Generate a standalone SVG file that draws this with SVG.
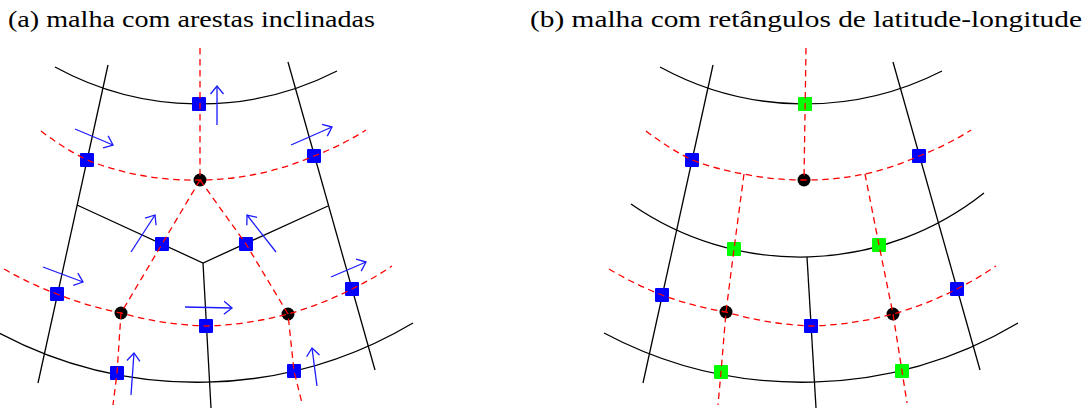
<svg xmlns="http://www.w3.org/2000/svg" width="1092" height="408" viewBox="0 0 1092 408">
<style>
.t{font-family:"Liberation Serif","DejaVu Serif",serif;font-size:23px;fill:#000}
.k{fill:none;stroke:#000;stroke-width:1.3}
.r{fill:none;stroke:#ff0000;stroke-width:1.3;stroke-dasharray:6.5,4.5}
.a{fill:none;stroke:#1a1aff;stroke-width:1.3}
.b{fill:#0000ff}
.g{fill:#00ff00}
.d{fill:#000}
</style>
<defs>
<marker id="ah" markerUnits="userSpaceOnUse" markerWidth="12" markerHeight="16" refX="9" refY="7" orient="auto" overflow="visible">
<path d="M1,0.5 L9,7 L1,13.5" fill="none" stroke="#1a1aff" stroke-width="1.3"/>
</marker>
</defs>
<rect width="1092" height="408" fill="#fff"/>
<text class="t" x="8" y="27" textLength="367" lengthAdjust="spacingAndGlyphs">(a) malha com arestas inclinadas</text>
<text class="t" x="530" y="27" textLength="552" lengthAdjust="spacingAndGlyphs">(b) malha com retângulos de latitude-longitude</text>

<g id="mesh">
<path class="k" d="M55,67 A302,302 0 0 0 337,71"/>
<path class="k" d="M108,65 L38,383"/>
<path class="k" d="M288,62 L375,370"/>
<path class="k" d="M77,205 L203,263 L328,206 M203,263 L211,408"/>
<path class="k" d="M-1,333 A423,423 0 0 0 413,323"/>
<path class="k" d="M660,67 A302,302 0 0 0 942,71"/>
<path class="k" d="M713,65 L643,383"/>
<path class="k" d="M893,62 L980,370"/>
<path class="k" d="M631,204 A296,296 0 0 0 984,193"/>
<path class="k" d="M807,257 L816,408"/>
<path class="k" d="M604,333 A423,423 0 0 0 1018,323"/>
</g>

<g id="nodes-a">
<g id="a-e1"><rect class="b" x="192" y="97" width="14" height="14" rx="1"/></g>
<g id="a-e2"><rect class="b" x="80" y="153" width="14" height="14" rx="1"/></g>
<g id="a-e3"><rect class="b" x="307" y="149" width="14" height="14" rx="1"/></g>
<g id="a-e4"><rect class="b" x="155" y="237" width="14" height="14" rx="1"/></g>
<g id="a-e5"><rect class="b" x="239" y="237" width="14" height="14" rx="1"/></g>
<g id="a-e6"><rect class="b" x="50" y="287" width="14" height="14" rx="1"/></g>
<g id="a-e7"><rect class="b" x="199" y="319" width="14" height="14" rx="1"/></g>
<g id="a-e8"><rect class="b" x="345" y="282" width="14" height="14" rx="1"/></g>
<g id="a-e9"><rect class="b" x="110" y="366" width="14" height="14" rx="1"/></g>
<g id="a-e10"><rect class="b" x="287" y="364" width="14" height="14" rx="1"/></g>
<g id="a-c1"><circle class="d" cx="200" cy="180" r="6.5"/></g>
<g id="a-c2"><circle class="d" cx="121" cy="313" r="6.5"/></g>
<g id="a-c3"><circle class="d" cx="288" cy="314" r="6.5"/></g>
</g>

<g id="nodes-b">
<g id="b-e1"><rect class="g" x="798" y="97" width="14" height="14" rx="1"/></g>
<g id="b-e2"><rect class="b" x="685" y="153" width="14" height="14" rx="1"/></g>
<g id="b-e3"><rect class="b" x="912" y="149" width="14" height="14" rx="1"/></g>
<g id="b-e4"><rect class="g" x="727" y="242" width="14" height="14" rx="1"/></g>
<g id="b-e5"><rect class="g" x="872" y="238" width="14" height="14" rx="1"/></g>
<g id="b-e6"><rect class="b" x="655" y="288" width="14" height="14" rx="1"/></g>
<g id="b-e7"><rect class="b" x="804" y="319" width="14" height="14" rx="1"/></g>
<g id="b-e8"><rect class="b" x="950" y="282" width="14" height="14" rx="1"/></g>
<g id="b-e9"><rect class="g" x="714" y="365" width="14" height="14" rx="1"/></g>
<g id="b-e10"><rect class="g" x="895" y="364" width="14" height="14" rx="1"/></g>
<g id="b-c1"><circle class="d" cx="804" cy="180" r="6.5"/></g>
<g id="b-c2"><circle class="d" cx="726" cy="312" r="6.5"/></g>
<g id="b-c3"><circle class="d" cx="893" cy="314" r="6.5"/></g>
</g>

<g id="connectors">
<path class="r" d="M200,48 L200,180"/>
<path class="r" d="M41,131 A291,291 0 0 0 87,160 A291,291 0 0 0 200,180 A291,291 0 0 0 314,156 A291,291 0 0 0 366,130"/>
<path class="r" d="M4,269 A350,350 0 0 0 57,294 A350,350 0 0 0 121,313 A350,350 0 0 0 206,326 A350,350 0 0 0 288,314 A350,350 0 0 0 352,289 A350,350 0 0 0 392,266"/>
<path class="r" d="M200,180 L162,244 L121,313 L117,373 L113,405"/>
<path class="r" d="M200,180 L246,244 L288,314 L294,371 L302,403"/>
<path class="r" d="M806,48 L804,180"/>
<path class="r" d="M646,131 A291,291 0 0 0 692,160 A291,291 0 0 0 744,174 A291,291 0 0 0 804,180 A291,291 0 0 0 865,174 A291,291 0 0 0 919,156 A291,291 0 0 0 971,130"/>
<path class="r" d="M609,269 A350,350 0 0 0 662,295 A350,350 0 0 0 726,312 A350,350 0 0 0 811,326 A350,350 0 0 0 893,314 A350,350 0 0 0 957,289 A350,350 0 0 0 996,266"/>
<path class="r" d="M744,174 L734,249 L726,312 L721,372 L718,405"/>
<path class="r" d="M865,174 L879,245 L893,314 L902,371 L907,403"/>
</g>

<g id="arrows">
<path class="a" marker-end="url(#ah)" d="M217,125 L217,86"/>
<path class="a" marker-end="url(#ah)" d="M75,129 L113,145"/>
<path class="a" marker-end="url(#ah)" d="M291,145 L332,127"/>
<path class="a" marker-end="url(#ah)" d="M131,252 L155,215"/>
<path class="a" marker-end="url(#ah)" d="M276,252 L247,215"/>
<path class="a" marker-end="url(#ah)" d="M43,267 L83,282"/>
<path class="a" marker-end="url(#ah)" d="M185,307 L232,308"/>
<path class="a" marker-end="url(#ah)" d="M331,277 L366,262"/>
<path class="a" marker-end="url(#ah)" d="M131,395 L134,353"/>
<path class="a" marker-end="url(#ah)" d="M317,386 L312,348"/>
</g>
</svg>
